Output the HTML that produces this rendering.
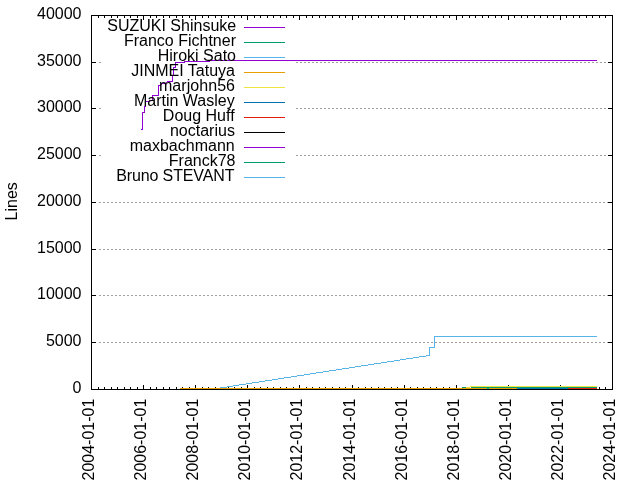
<!DOCTYPE html>
<html lang="en">
<head>
<meta charset="utf-8">
<title>Lines of code by author</title>
<style>
html,body{margin:0;padding:0;background:#ffffff;}
body{width:640px;height:480px;overflow:hidden;}
svg{display:block;}
svg text{font-family:"Liberation Sans",sans-serif;font-size:16px;fill:#000000;}
.grid line{stroke:#a0a0a0;stroke-width:1;stroke-dasharray:2 2;}
</style>
</head>
<body>
<svg width="640" height="480" viewBox="0 0 640 480">
<rect x="0" y="0" width="640" height="480" fill="#ffffff"/>
<g shape-rendering="crispEdges">
<g class="grid">
<line x1="99" y1="62.5" x2="101" y2="62.5"/>
<line x1="296" y1="62.5" x2="608" y2="62.5"/>
<line x1="99" y1="108.5" x2="101" y2="108.5"/>
<line x1="296" y1="108.5" x2="608" y2="108.5"/>
<line x1="99" y1="155.5" x2="101" y2="155.5"/>
<line x1="296" y1="155.5" x2="608" y2="155.5"/>
<line x1="99" y1="202.5" x2="608" y2="202.5"/>
<line x1="99" y1="249.5" x2="608" y2="249.5"/>
<line x1="99" y1="295.5" x2="608" y2="295.5"/>
<line x1="99" y1="342.5" x2="608" y2="342.5"/>
</g>
<g fill="#000000">
<rect x="98" y="387" width="1" height="2"/>
<rect x="98" y="16" width="1" height="2"/>
<rect x="104" y="387" width="1" height="2"/>
<rect x="104" y="16" width="1" height="2"/>
<rect x="111" y="387" width="1" height="2"/>
<rect x="111" y="16" width="1" height="2"/>
<rect x="117" y="387" width="1" height="2"/>
<rect x="117" y="16" width="1" height="2"/>
<rect x="124" y="387" width="1" height="2"/>
<rect x="124" y="16" width="1" height="2"/>
<rect x="130" y="387" width="1" height="2"/>
<rect x="130" y="16" width="1" height="2"/>
<rect x="137" y="387" width="1" height="2"/>
<rect x="137" y="16" width="1" height="2"/>
<rect x="143" y="385" width="1" height="4"/>
<rect x="143" y="16" width="1" height="4"/>
<rect x="150" y="387" width="1" height="2"/>
<rect x="150" y="16" width="1" height="2"/>
<rect x="156" y="387" width="1" height="2"/>
<rect x="156" y="16" width="1" height="2"/>
<rect x="163" y="387" width="1" height="2"/>
<rect x="163" y="16" width="1" height="2"/>
<rect x="169" y="387" width="1" height="2"/>
<rect x="169" y="16" width="1" height="2"/>
<rect x="176" y="387" width="1" height="2"/>
<rect x="176" y="16" width="1" height="2"/>
<rect x="182" y="387" width="1" height="2"/>
<rect x="182" y="16" width="1" height="2"/>
<rect x="189" y="387" width="1" height="2"/>
<rect x="189" y="16" width="1" height="2"/>
<rect x="195" y="385" width="1" height="4"/>
<rect x="195" y="16" width="1" height="4"/>
<rect x="202" y="387" width="1" height="2"/>
<rect x="202" y="16" width="1" height="2"/>
<rect x="208" y="387" width="1" height="2"/>
<rect x="208" y="16" width="1" height="2"/>
<rect x="215" y="387" width="1" height="2"/>
<rect x="215" y="16" width="1" height="2"/>
<rect x="221" y="387" width="1" height="2"/>
<rect x="221" y="16" width="1" height="2"/>
<rect x="228" y="387" width="1" height="2"/>
<rect x="228" y="16" width="1" height="2"/>
<rect x="234" y="387" width="1" height="2"/>
<rect x="234" y="16" width="1" height="2"/>
<rect x="241" y="387" width="1" height="2"/>
<rect x="241" y="16" width="1" height="2"/>
<rect x="247" y="385" width="1" height="4"/>
<rect x="247" y="16" width="1" height="4"/>
<rect x="254" y="387" width="1" height="2"/>
<rect x="254" y="16" width="1" height="2"/>
<rect x="260" y="387" width="1" height="2"/>
<rect x="260" y="16" width="1" height="2"/>
<rect x="267" y="387" width="1" height="2"/>
<rect x="267" y="16" width="1" height="2"/>
<rect x="273" y="387" width="1" height="2"/>
<rect x="273" y="16" width="1" height="2"/>
<rect x="280" y="387" width="1" height="2"/>
<rect x="280" y="16" width="1" height="2"/>
<rect x="286" y="387" width="1" height="2"/>
<rect x="286" y="16" width="1" height="2"/>
<rect x="293" y="387" width="1" height="2"/>
<rect x="293" y="16" width="1" height="2"/>
<rect x="299" y="385" width="1" height="4"/>
<rect x="299" y="16" width="1" height="4"/>
<rect x="306" y="387" width="1" height="2"/>
<rect x="306" y="16" width="1" height="2"/>
<rect x="312" y="387" width="1" height="2"/>
<rect x="312" y="16" width="1" height="2"/>
<rect x="319" y="387" width="1" height="2"/>
<rect x="319" y="16" width="1" height="2"/>
<rect x="325" y="387" width="1" height="2"/>
<rect x="325" y="16" width="1" height="2"/>
<rect x="332" y="387" width="1" height="2"/>
<rect x="332" y="16" width="1" height="2"/>
<rect x="339" y="387" width="1" height="2"/>
<rect x="339" y="16" width="1" height="2"/>
<rect x="345" y="387" width="1" height="2"/>
<rect x="345" y="16" width="1" height="2"/>
<rect x="352" y="385" width="1" height="4"/>
<rect x="352" y="16" width="1" height="4"/>
<rect x="358" y="387" width="1" height="2"/>
<rect x="358" y="16" width="1" height="2"/>
<rect x="365" y="387" width="1" height="2"/>
<rect x="365" y="16" width="1" height="2"/>
<rect x="371" y="387" width="1" height="2"/>
<rect x="371" y="16" width="1" height="2"/>
<rect x="378" y="387" width="1" height="2"/>
<rect x="378" y="16" width="1" height="2"/>
<rect x="384" y="387" width="1" height="2"/>
<rect x="384" y="16" width="1" height="2"/>
<rect x="391" y="387" width="1" height="2"/>
<rect x="391" y="16" width="1" height="2"/>
<rect x="397" y="387" width="1" height="2"/>
<rect x="397" y="16" width="1" height="2"/>
<rect x="404" y="385" width="1" height="4"/>
<rect x="404" y="16" width="1" height="4"/>
<rect x="410" y="387" width="1" height="2"/>
<rect x="410" y="16" width="1" height="2"/>
<rect x="417" y="387" width="1" height="2"/>
<rect x="417" y="16" width="1" height="2"/>
<rect x="423" y="387" width="1" height="2"/>
<rect x="423" y="16" width="1" height="2"/>
<rect x="430" y="387" width="1" height="2"/>
<rect x="430" y="16" width="1" height="2"/>
<rect x="436" y="387" width="1" height="2"/>
<rect x="436" y="16" width="1" height="2"/>
<rect x="443" y="387" width="1" height="2"/>
<rect x="443" y="16" width="1" height="2"/>
<rect x="449" y="387" width="1" height="2"/>
<rect x="449" y="16" width="1" height="2"/>
<rect x="456" y="385" width="1" height="4"/>
<rect x="456" y="16" width="1" height="4"/>
<rect x="462" y="387" width="1" height="2"/>
<rect x="462" y="16" width="1" height="2"/>
<rect x="469" y="387" width="1" height="2"/>
<rect x="469" y="16" width="1" height="2"/>
<rect x="475" y="387" width="1" height="2"/>
<rect x="475" y="16" width="1" height="2"/>
<rect x="482" y="387" width="1" height="2"/>
<rect x="482" y="16" width="1" height="2"/>
<rect x="488" y="387" width="1" height="2"/>
<rect x="488" y="16" width="1" height="2"/>
<rect x="495" y="387" width="1" height="2"/>
<rect x="495" y="16" width="1" height="2"/>
<rect x="501" y="387" width="1" height="2"/>
<rect x="501" y="16" width="1" height="2"/>
<rect x="508" y="385" width="1" height="4"/>
<rect x="508" y="16" width="1" height="4"/>
<rect x="514" y="387" width="1" height="2"/>
<rect x="514" y="16" width="1" height="2"/>
<rect x="521" y="387" width="1" height="2"/>
<rect x="521" y="16" width="1" height="2"/>
<rect x="527" y="387" width="1" height="2"/>
<rect x="527" y="16" width="1" height="2"/>
<rect x="534" y="387" width="1" height="2"/>
<rect x="534" y="16" width="1" height="2"/>
<rect x="540" y="387" width="1" height="2"/>
<rect x="540" y="16" width="1" height="2"/>
<rect x="547" y="387" width="1" height="2"/>
<rect x="547" y="16" width="1" height="2"/>
<rect x="553" y="387" width="1" height="2"/>
<rect x="553" y="16" width="1" height="2"/>
<rect x="560" y="385" width="1" height="4"/>
<rect x="560" y="16" width="1" height="4"/>
<rect x="566" y="387" width="1" height="2"/>
<rect x="566" y="16" width="1" height="2"/>
<rect x="573" y="387" width="1" height="2"/>
<rect x="573" y="16" width="1" height="2"/>
<rect x="579" y="387" width="1" height="2"/>
<rect x="579" y="16" width="1" height="2"/>
<rect x="586" y="387" width="1" height="2"/>
<rect x="586" y="16" width="1" height="2"/>
<rect x="592" y="387" width="1" height="2"/>
<rect x="592" y="16" width="1" height="2"/>
<rect x="599" y="387" width="1" height="2"/>
<rect x="599" y="16" width="1" height="2"/>
<rect x="605" y="387" width="1" height="2"/>
<rect x="605" y="16" width="1" height="2"/>
<rect x="92" y="62" width="4" height="1"/>
<rect x="608" y="62" width="4" height="1"/>
<rect x="92" y="108" width="4" height="1"/>
<rect x="608" y="108" width="4" height="1"/>
<rect x="92" y="155" width="4" height="1"/>
<rect x="608" y="155" width="4" height="1"/>
<rect x="92" y="202" width="4" height="1"/>
<rect x="608" y="202" width="4" height="1"/>
<rect x="92" y="249" width="4" height="1"/>
<rect x="608" y="249" width="4" height="1"/>
<rect x="92" y="295" width="4" height="1"/>
<rect x="608" y="295" width="4" height="1"/>
<rect x="92" y="342" width="4" height="1"/>
<rect x="608" y="342" width="4" height="1"/>
</g>
<g>
<rect x="141" y="129" width="2" height="1" fill="#9400d3"/>
<rect x="142" y="112" width="1" height="18" fill="#9400d3"/>
<rect x="142" y="112" width="3" height="1" fill="#9400d3"/>
<rect x="144" y="106" width="1" height="7" fill="#9400d3"/>
<rect x="144" y="106" width="2" height="1" fill="#9400d3"/>
<rect x="145" y="101" width="1" height="6" fill="#9400d3"/>
<rect x="145" y="101" width="4" height="1" fill="#9400d3"/>
<rect x="149" y="100" width="4" height="1" fill="#9400d3"/>
<rect x="152" y="95" width="1" height="6" fill="#9400d3"/>
<rect x="152" y="95" width="7" height="1" fill="#9400d3"/>
<rect x="158" y="85" width="1" height="11" fill="#9400d3"/>
<rect x="158" y="85" width="3" height="1" fill="#9400d3"/>
<rect x="161" y="84" width="1" height="1" fill="#9400d3"/>
<rect x="162" y="83" width="4" height="1" fill="#9400d3"/>
<rect x="166" y="82" width="1" height="1" fill="#9400d3"/>
<rect x="167" y="81" width="6" height="1" fill="#9400d3"/>
<rect x="172" y="75" width="1" height="7" fill="#9400d3"/>
<rect x="172" y="75" width="2" height="1" fill="#9400d3"/>
<rect x="173" y="67" width="1" height="9" fill="#9400d3"/>
<rect x="173" y="67" width="3" height="1" fill="#9400d3"/>
<rect x="175" y="62" width="1" height="6" fill="#9400d3"/>
<rect x="175" y="62" width="10" height="1" fill="#9400d3"/>
<rect x="184" y="61" width="1" height="2" fill="#9400d3"/>
<rect x="184" y="61" width="26" height="1" fill="#9400d3"/>
<rect x="209" y="60" width="1" height="2" fill="#9400d3"/>
<rect x="209" y="60" width="388" height="1" fill="#9400d3"/>
<rect x="180" y="388" width="337" height="1" fill="#e69f00"/>
<rect x="462" y="387" width="4" height="1" fill="#009e73"/>
<rect x="471" y="387" width="126" height="1" fill="#009e73"/>
<rect x="466" y="387" width="4" height="1" fill="#f0e442"/>
<rect x="470" y="386" width="127" height="1" fill="#f0e442"/>
<rect x="517" y="388" width="51" height="1" fill="#0072b2"/>
<rect x="568" y="388" width="29" height="1" fill="#e51e10"/>
<rect x="487" y="388" width="2" height="1" fill="#009e73"/>
<rect x="220" y="387" width="7" height="1" fill="#56b4e9"/>
<rect x="227" y="386" width="6" height="1" fill="#56b4e9"/>
<rect x="233" y="385" width="6" height="1" fill="#56b4e9"/>
<rect x="239" y="384" width="7" height="1" fill="#56b4e9"/>
<rect x="246" y="383" width="6" height="1" fill="#56b4e9"/>
<rect x="252" y="382" width="7" height="1" fill="#56b4e9"/>
<rect x="259" y="381" width="6" height="1" fill="#56b4e9"/>
<rect x="265" y="380" width="7" height="1" fill="#56b4e9"/>
<rect x="272" y="379" width="6" height="1" fill="#56b4e9"/>
<rect x="278" y="378" width="6" height="1" fill="#56b4e9"/>
<rect x="284" y="377" width="7" height="1" fill="#56b4e9"/>
<rect x="291" y="376" width="6" height="1" fill="#56b4e9"/>
<rect x="297" y="375" width="7" height="1" fill="#56b4e9"/>
<rect x="304" y="374" width="6" height="1" fill="#56b4e9"/>
<rect x="310" y="373" width="6" height="1" fill="#56b4e9"/>
<rect x="316" y="372" width="7" height="1" fill="#56b4e9"/>
<rect x="323" y="371" width="6" height="1" fill="#56b4e9"/>
<rect x="329" y="370" width="7" height="1" fill="#56b4e9"/>
<rect x="336" y="369" width="6" height="1" fill="#56b4e9"/>
<rect x="342" y="368" width="7" height="1" fill="#56b4e9"/>
<rect x="349" y="367" width="6" height="1" fill="#56b4e9"/>
<rect x="355" y="366" width="6" height="1" fill="#56b4e9"/>
<rect x="361" y="365" width="7" height="1" fill="#56b4e9"/>
<rect x="368" y="364" width="6" height="1" fill="#56b4e9"/>
<rect x="374" y="363" width="7" height="1" fill="#56b4e9"/>
<rect x="381" y="362" width="6" height="1" fill="#56b4e9"/>
<rect x="387" y="361" width="7" height="1" fill="#56b4e9"/>
<rect x="394" y="360" width="6" height="1" fill="#56b4e9"/>
<rect x="400" y="359" width="6" height="1" fill="#56b4e9"/>
<rect x="406" y="358" width="7" height="1" fill="#56b4e9"/>
<rect x="413" y="357" width="6" height="1" fill="#56b4e9"/>
<rect x="419" y="356" width="7" height="1" fill="#56b4e9"/>
<rect x="426" y="355" width="4" height="1" fill="#56b4e9"/>
<rect x="429" y="347" width="1" height="9" fill="#56b4e9"/>
<rect x="429" y="347" width="6" height="1" fill="#56b4e9"/>
<rect x="434" y="336" width="1" height="12" fill="#56b4e9"/>
<rect x="434" y="336" width="163" height="1" fill="#56b4e9"/>
</g>
<g>
<rect x="244" y="27" width="41" height="1" fill="#9400d3"/>
<rect x="244" y="42" width="41" height="1" fill="#009e73"/>
<rect x="244" y="57" width="41" height="1" fill="#56b4e9"/>
<rect x="244" y="72" width="41" height="1" fill="#e69f00"/>
<rect x="244" y="87" width="41" height="1" fill="#f0e442"/>
<rect x="244" y="102" width="41" height="1" fill="#0072b2"/>
<rect x="244" y="117" width="41" height="1" fill="#e51e10"/>
<rect x="244" y="132" width="41" height="1" fill="#000000"/>
<rect x="244" y="147" width="41" height="1" fill="#9400d3"/>
<rect x="244" y="162" width="41" height="1" fill="#009e73"/>
<rect x="244" y="177" width="41" height="1" fill="#56b4e9"/>
</g>
<g fill="#000000">
<rect x="91" y="15" width="522" height="1"/>
<rect x="91" y="389" width="522" height="1"/>
<rect x="91" y="15" width="1" height="375"/>
<rect x="612" y="15" width="1" height="375"/>
</g>
</g>
<g>
<text x="236.2" y="31" text-anchor="end">SUZUKI Shinsuke</text>
<text x="236.0" y="46" text-anchor="end">Franco Fichtner</text>
<text x="236.0" y="61" text-anchor="end">Hiroki Sato</text>
<text x="235.0" y="76" text-anchor="end">JINMEI Tatuya</text>
<text x="235.0" y="91" text-anchor="end" textLength="76.0" lengthAdjust="spacing">marjohn56</text>
<text x="234.7" y="106" text-anchor="end">Martin Wasley</text>
<text x="234.6" y="121" text-anchor="end">Doug Huff</text>
<text x="234.9" y="136" text-anchor="end">noctarius</text>
<text x="234.7" y="151" text-anchor="end">maxbachmann</text>
<text x="235.5" y="166" text-anchor="end">Franck78</text>
<text x="234.5" y="181" text-anchor="end" textLength="118.3" lengthAdjust="spacing">Bruno STEVANT</text>
<text x="81.5" y="19" text-anchor="end">40000</text>
<text x="81.5" y="66" text-anchor="end">35000</text>
<text x="81.5" y="112" text-anchor="end">30000</text>
<text x="81.5" y="159" text-anchor="end">25000</text>
<text x="81.5" y="206" text-anchor="end">20000</text>
<text x="81.5" y="253" text-anchor="end">15000</text>
<text x="81.5" y="299" text-anchor="end">10000</text>
<text x="81.5" y="346" text-anchor="end">5000</text>
<text x="81.5" y="393" text-anchor="end">0</text>
<text transform="translate(17,201.3) rotate(-90)" text-anchor="middle">Lines</text>
<text transform="translate(94,480.5) rotate(-90)">2004-01-01</text>
<text transform="translate(146,480.5) rotate(-90)">2006-01-01</text>
<text transform="translate(198,480.5) rotate(-90)">2008-01-01</text>
<text transform="translate(250,480.5) rotate(-90)">2010-01-01</text>
<text transform="translate(302,480.5) rotate(-90)">2012-01-01</text>
<text transform="translate(355.4,480.5) rotate(-90)">2014-01-01</text>
<text transform="translate(407.4,480.5) rotate(-90)">2016-01-01</text>
<text transform="translate(459,480.5) rotate(-90)">2018-01-01</text>
<text transform="translate(511,480.5) rotate(-90)">2020-01-01</text>
<text transform="translate(563.4,480.5) rotate(-90)">2022-01-01</text>
<text transform="translate(615,480.5) rotate(-90)">2024-01-01</text>
</g>
</svg>
</body>
</html>
